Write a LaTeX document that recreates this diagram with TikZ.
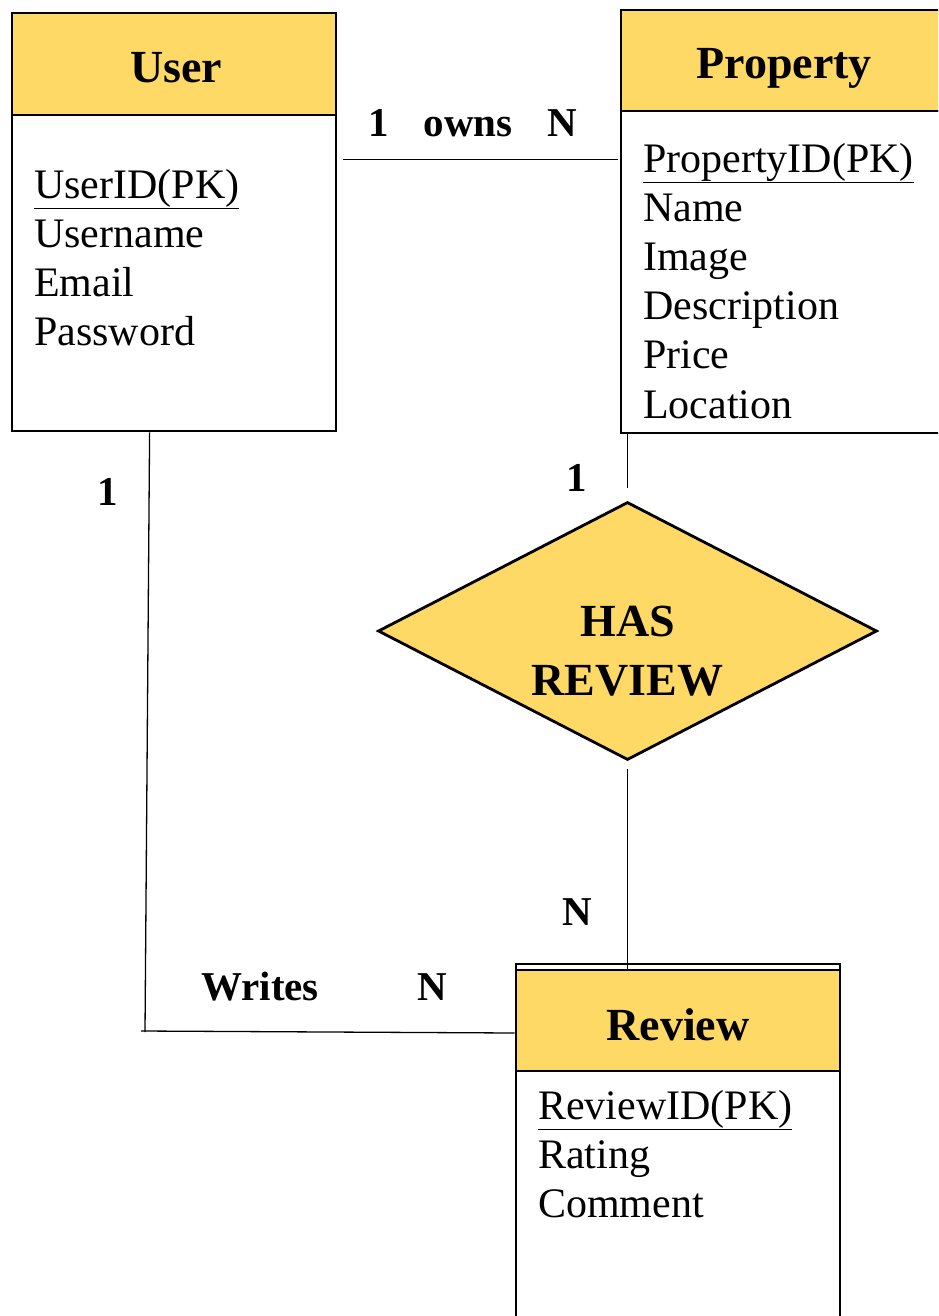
\documentclass[tikz,border=0pt]{standalone}
\usepackage{fontspec}
\setmainfont{Liberation Serif}
\usetikzlibrary{shapes.geometric,calc}
\definecolor{entyellow}{HTML}{FFD966}
\tikzset{
  box/.style={draw=black, line width=2.8pt, rectangle, inner sep=0pt, minimum width=#1},
  head/.style={box=#1, fill=entyellow},
  conn/.style={draw=black, line width=1.3pt},
  title/.style={font=\fontsize{46}{50}\selectfont\bfseries, inner sep=0pt, anchor=base},
  attr/.style={font=\fontsize{42}{49}\selectfont, inner sep=0pt, anchor=base west},
  card/.style={font=\fontsize{41}{46}\selectfont\bfseries, inner sep=0pt, anchor=base},
}
\begin{document}
\begin{tikzpicture}[x=1pt,y=-1pt]
\clip (0,0) rectangle (938,1316);
\fill[white] (0,0) rectangle (938,1316);

% User entity
\node[box=324, minimum height=316] (userb) at (174,273) {};
\node[head=324, minimum height=102] (userh) at (174,64) {};
\node[title] (usert) at (176,83) {User};
\node[attr] (u1) at (34,198) {\underline{UserID(PK)}};
\node[attr] (u2) at (34,247) {Username};
\node[attr] (u3) at (34,296) {Email};
\node[attr] (u4) at (34,345) {Password};

% Property entity
\node[box=326, minimum height=322] (propb) at (784,272) {};
\node[head=326, minimum height=101] (proph) at (784,60.5) {};
\node[title] (propt) at (784,79) {Property};
\node[attr] (p1) at (643,172) {\underline{PropertyID(PK)}};
\node[attr] (p2) at (643,221.2) {Name};
\node[attr] (p3) at (643,270.4) {Image};
\node[attr] (p4) at (643,319.6) {Description};
\node[attr] (p5) at (643,368.8) {Price};
\node[attr] (p6) at (643,418) {Location};

% Review entity
\node[box=324, minimum height=370] (revo) at (678,1149) {};
\node[head=324, minimum height=101] (revh) at (678,1020.5) {};
\node[title] (revt) at (678,1040) {Review};
\node[attr] (r1) at (538,1119) {\underline{ReviewID(PK)}};
\node[attr] (r2) at (538,1168) {Rating};
\node[attr] (r3) at (538,1217) {Comment};

% Relationship
\node[diamond, draw=black, line width=2.8pt, fill=entyellow, inner sep=0pt,
      minimum width=499, minimum height=258] (hasrev) at (627.5,631) {};
\node[title, anchor=center, align=center, font=\fontsize{46}{59}\selectfont\bfseries]
      (hast) at (627.5,651) {HAS\\REVIEW};

% owns
\draw[conn] ($(userb.north east)+(6,46)$) -- ($(propb.north west)+(-2,50)$);
\node[card] (o1) at (379,137) {1};
\node[card] (o2) at (468,137) {owns};
\node[card] (o3) at (562,137) {N};

% property -- has review -- review
\draw[conn] (hasrev.north |- propb.south) -- ($(hasrev.north)+(0,-13)$);
\node[card] (h1) at (577,491) {1};
\draw[conn] ($(hasrev.south)+(0,8)$) -- (hasrev.south |- revh.north);
\node[card] (h2) at (577,925) {N};

% writes
\coordinate (wcorner) at (145,1032);
\draw[conn] ($(userb.south west)+(139,0)$) -- (wcorner);
\draw[conn] ($(wcorner)+(-4,-1)$) -- ($(revh.west)+(0,12.5)$);
\node[card] (w0) at (108,505) {1};
\node[card] (w1) at (260,1000) {Writes};
\node[card] (w2) at (432,1000) {N};
\end{tikzpicture}
\end{document}
